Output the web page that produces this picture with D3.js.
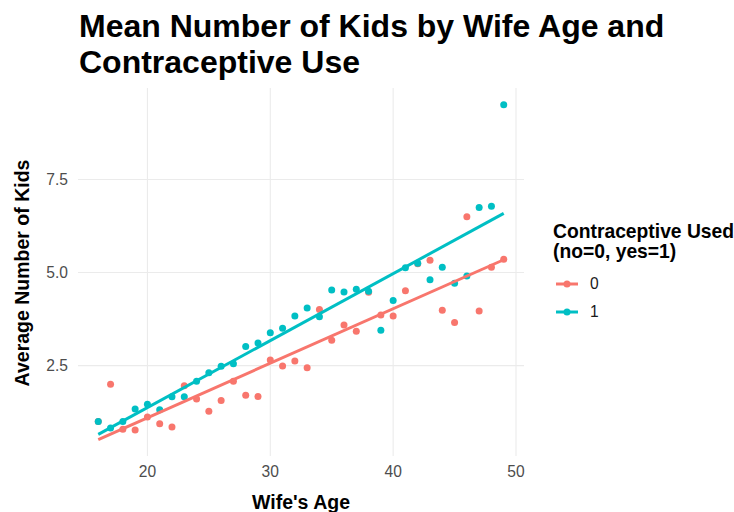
<!DOCTYPE html>
<html>
<head>
<meta charset="utf-8">
<script src="https://cdn.jsdelivr.net/npm/d3@7"></script>
<style>
  body { margin: 0; background: #fff; }
  text { font-family: "Liberation Sans", Arial, sans-serif; }
</style>
</head>
<body>
<div id="chart"></div>
<script>
// mean kids per wife age, for each contraceptive group
var ages = [16,17,18,19,20,21,22,23,24,25,26,27,28,29,30,31,32,33,34,35,36,37,38,39,40,41,42,43,44,45,46,47,48,49]
var kidsNo = [1.00,2.00,0.79,0.77,1.12,0.94,0.85,1.96,1.60,1.27,1.56,2.08,1.70,1.67,2.65,2.49,2.62,2.44,4.01,3.18,3.59,3.42,4.47,3.86,3.83,4.51,5.24,5.33,3.99,3.66,6.50,3.97,5.14,5.36]
var kidsYes = [1.00,0.82,1.00,1.33,1.46,1.31,1.66,1.66,2.08,2.31,2.48,2.55,3.01,3.11,3.38,3.50,3.83,4.05,3.81,4.53,4.48,4.55,4.50,3.45,4.25,5.13,5.25,4.81,5.14,4.71,4.91,6.75,6.78,9.51]
var groups = ["0", "1"]
var colors = ["#F8766D", "#00BFC4"]
var xTicks = [20, 30, 40, 50]
var yTicks = [2.5, 5.0, 7.5]

var width = 734, height = 512
var margin = {top: 88, right: 210, bottom: 56, left: 78}

var svg = d3.select("#chart").append("svg")
    .attr("width", width)
    .attr("height", height)

var x = d3.scaleLinear()
    .domain([14.35, 50.65])
    .range([margin.left, width - margin.right])

var y = d3.scaleLinear()
    .domain([0.07, 9.96])
    .range([height - margin.bottom, margin.top])

// grid
svg.append("g").selectAll("line")
  .data(xTicks)
  .enter().append("line")
    .attr("x1", function(d){ return x(d) }).attr("x2", function(d){ return x(d) })
    .attr("y1", margin.top).attr("y2", height - margin.bottom)
    .attr("stroke", "#ebebeb").attr("stroke-width", 1.1)

svg.append("g").selectAll("line")
  .data(yTicks)
  .enter().append("line")
    .attr("x1", margin.left).attr("x2", width - margin.right)
    .attr("y1", function(d){ return y(d) }).attr("y2", function(d){ return y(d) })
    .attr("stroke", "#ebebeb").attr("stroke-width", 1.1)

// tick labels
svg.append("g").selectAll("text")
  .data(xTicks)
  .enter().append("text")
    .attr("x", function(d){ return x(d) })
    .attr("y", 477)
    .attr("text-anchor", "middle")
    .attr("font-size", 15.6)
    .attr("fill", "#4d4d4d")
    .text(function(d){ return d })

svg.append("g").selectAll("text")
  .data(yTicks)
  .enter().append("text")
    .attr("x", 68)
    .attr("y", function(d){ return y(d) })
    .attr("dy", "0.35em")
    .attr("text-anchor", "end")
    .attr("font-size", 15.6)
    .attr("fill", "#4d4d4d")
    .text(function(d){ return d.toFixed(1) })

// least squares fit, like geom_smooth(method = "lm")
function fit(xs, ys) {
  var mx = d3.mean(xs), my = d3.mean(ys)
  var sxy = 0, sxx = 0
  for (var i = 0; i < xs.length; i++) {
    sxy += (xs[i] - mx) * (ys[i] - my)
    sxx += (xs[i] - mx) * (xs[i] - mx)
  }
  var b = sxy / sxx
  return {a: my - b * mx, b: b}
}

var series = [kidsNo, kidsYes]
series.forEach(function(vals, k) {
  var g = svg.append("g")
  g.selectAll("circle")
    .data(ages)
    .enter().append("circle")
      .attr("cx", function(d){ return x(d) })
      .attr("cy", function(d, i){ return y(vals[i]) })
      .attr("r", 3.5)
      .attr("fill", colors[k])
})

series.forEach(function(vals, k) {
  var m = fit(ages, vals)
  var ends = d3.extent(ages)
  svg.append("line")
    .attr("x1", x(ends[0])).attr("y1", y(m.a + m.b * ends[0]))
    .attr("x2", x(ends[1])).attr("y2", y(m.a + m.b * ends[1]))
    .attr("stroke", colors[k])
    .attr("stroke-width", 3)
})

// titles
svg.append("text")
    .attr("x", 79).attr("y", 37)
    .attr("font-size", 32).attr("font-weight", "bold")
    .text("Mean Number of Kids by Wife Age and")
svg.append("text")
    .attr("x", 79).attr("y", 73)
    .attr("font-size", 32).attr("font-weight", "bold")
    .text("Contraceptive Use")

svg.append("text")
    .attr("x", (margin.left + width - margin.right) / 2)
    .attr("y", 509)
    .attr("text-anchor", "middle")
    .attr("font-size", 19.5).attr("font-weight", "bold")
    .text("Wife's Age")

svg.append("text")
    .attr("transform", "translate(29,273) rotate(-90)")
    .attr("text-anchor", "middle")
    .attr("font-size", 19.5).attr("font-weight", "bold")
    .text("Average Number of Kids")

// legend
var legend = svg.append("g").attr("transform", "translate(553,0)")
legend.append("text").attr("x", 0).attr("y", 238)
    .attr("font-size", 19.3).attr("font-weight", "bold")
    .text("Contraceptive Used")
legend.append("text").attr("x", 0).attr("y", 258)
    .attr("font-size", 19.3).attr("font-weight", "bold")
    .text("(no=0, yes=1)")

var keys = legend.selectAll(".key")
  .data(groups)
  .enter().append("g")
    .attr("transform", function(d, i){ return "translate(0," + (284 + i * 28) + ")" })
keys.append("line")
    .attr("x1", 3).attr("x2", 25)
    .attr("stroke", function(d, i){ return colors[i] })
    .attr("stroke-width", 3)
keys.append("circle")
    .attr("cx", 14).attr("r", 3.5)
    .attr("fill", function(d, i){ return colors[i] })
keys.append("text")
    .attr("x", 37).attr("dy", "0.35em")
    .attr("font-size", 15.6).attr("fill", "#1a1a1a")
    .text(function(d){ return d })
</script>
</body>
</html>
